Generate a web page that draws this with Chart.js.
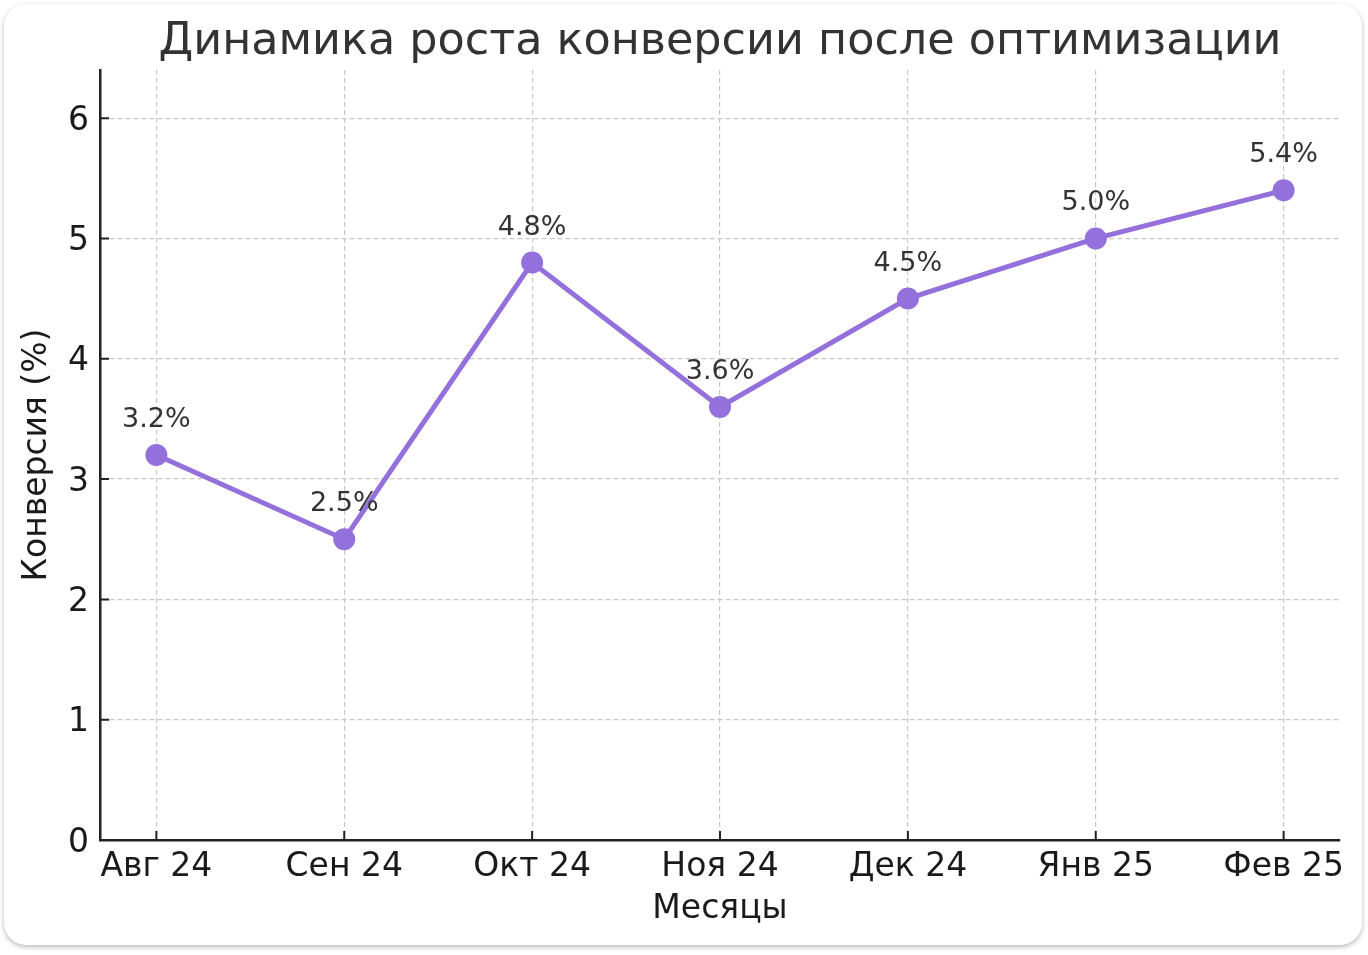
<!DOCTYPE html>
<html>
<head>
<meta charset="utf-8">
<script src="https://cdn.jsdelivr.net/npm/chart.js@4"></script>
<style>
  html, body { margin: 0; padding: 0; background: #ffffff; }
  #card {
    position: absolute; left: 4px; top: 4px; width: 1358px; height: 941px;
    background: #fff; border-radius: 22px;
    box-shadow: 0 2px 5px rgba(0,0,0,0.28);
  }
  #chart { position: absolute; left: 0; top: 0; }
</style>
</head>
<body>
<div id="card"></div>
<canvas id="chart" width="1368" height="955"></canvas>
<script>
// данные графика
const months = ["Авг 24", "Сен 24", "Окт 24", "Ноя 24", "Дек 24", "Янв 25", "Фев 25"];
const conversion = [3.2, 2.5, 4.8, 3.6, 4.5, 5.0, 5.4];
const yTicks = [0, 1, 2, 3, 4, 5, 6];
const chartTitle = "Динамика роста конверсии после оптимизации";

const FONT = "'DejaVu Sans', sans-serif";
const PURPLE = "#9370DB";

// заголовок по центру области построения (как в matplotlib)
const centeredTitle = {
  id: "centeredTitle",
  afterDraw(chart) {
    const { ctx, chartArea } = chart;
    ctx.save();
    ctx.font = "44.5px " + FONT;
    ctx.fillStyle = "#333333";
    ctx.textAlign = "center";
    ctx.textBaseline = "middle";
    ctx.fillText(chartTitle, (chartArea.left + chartArea.right) / 2, 42);
    ctx.restore();
  }
};

// подписи значений над точками
const valueLabels = {
  id: "valueLabels",
  afterDatasetsDraw(chart) {
    const ctx = chart.ctx;
    const meta = chart.getDatasetMeta(0);
    ctx.save();
    ctx.font = "27px " + FONT;
    ctx.fillStyle = "#333333";
    ctx.textAlign = "center";
    ctx.textBaseline = "middle";
    meta.data.forEach((pt, i) => {
      ctx.fillText(conversion[i].toFixed(1) + "%", pt.x, pt.y - 35);
    });
    ctx.restore();
  }
};

// короткие засечки внутрь, как в matplotlib
const innerTicks = {
  id: "innerTicks",
  afterDraw(chart) {
    const { ctx, chartArea, scales } = chart;
    ctx.save();
    ctx.strokeStyle = "#222";
    ctx.lineWidth = 2;
    ctx.beginPath();
    months.forEach((m, i) => {
      const x = scales.x.getPixelForValue(i);
      ctx.moveTo(x, chartArea.bottom);
      ctx.lineTo(x, chartArea.bottom - 9);
    });
    yTicks.forEach((v) => {
      const y = scales.y.getPixelForValue(v);
      ctx.moveTo(chartArea.left, y);
      ctx.lineTo(chartArea.left + 9, y);
    });
    ctx.stroke();
    ctx.restore();
  }
};

const config = {
  type: "line",
  data: {
    datasets: [
      {
        label: "Конверсия",
        data: conversion.map((v, i) => ({ x: i, y: v })),
        borderColor: PURPLE,
        backgroundColor: PURPLE,
        borderWidth: 5,
        pointRadius: 11,
        pointHoverRadius: 11,
        pointBorderWidth: 0,
        tension: 0,
      },
    ],
  },
  options: {
    responsive: false,
    animation: false,
    events: [],
    layout: { padding: { left: 0, right: 28, top: 70, bottom: 0 } },
    plugins: {
      legend: { display: false },
      tooltip: { enabled: false },
      title: { display: false },
    },
    scales: {
      x: {
        type: "linear",
        min: -0.3,
        max: 6.3,
        afterFit: (s) => { s.height = 115; },
        afterBuildTicks: (s) => { s.ticks = months.map((m, i) => ({ value: i })); },
        ticks: {
          stepSize: 1,
          includeBounds: false,
          autoSkip: false,
          maxRotation: 0,
          padding: 8,
          color: "#1a1a1a",
          font: { family: FONT, size: 33 },
          callback: (v) => months[v],
        },
        grid: { color: "#c8c8c8", lineWidth: 1.2, drawTicks: false },
        border: { display: true, color: "#222", width: 2.5, dash: [5, 3] },
        title: {
          display: true,
          text: "Месяцы",
          color: "#1a1a1a",
          font: { family: FONT, size: 33, lineHeight: 1.2 },
          padding: { top: 0, bottom: 26 },
        },
      },
      y: {
        min: 0,
        max: 6.4,
        afterFit: (s) => { s.width = 100; },
        afterBuildTicks: (s) => { s.ticks = yTicks.map((v) => ({ value: v })); },
        ticks: {
          stepSize: 1,
          includeBounds: false,
          padding: 11,
          labelOffset: 3,
          color: "#1a1a1a",
          font: { family: FONT, size: 33 },
        },
        grid: { color: "#c8c8c8", lineWidth: 1.2, drawTicks: false },
        border: { display: true, color: "#222", width: 2.5, dash: [5, 3] },
        title: {
          display: true,
          text: "Конверсия (%)",
          color: "#1a1a1a",
          font: { family: FONT, size: 33, lineHeight: 1.2 },
          padding: { top: 18, bottom: 0 },
        },
      },
    },
  },
  plugins: [valueLabels, innerTicks, centeredTitle],
};

const ctx = document.getElementById("chart").getContext("2d");
new Chart(ctx, config);
</script>
</body>
</html>
